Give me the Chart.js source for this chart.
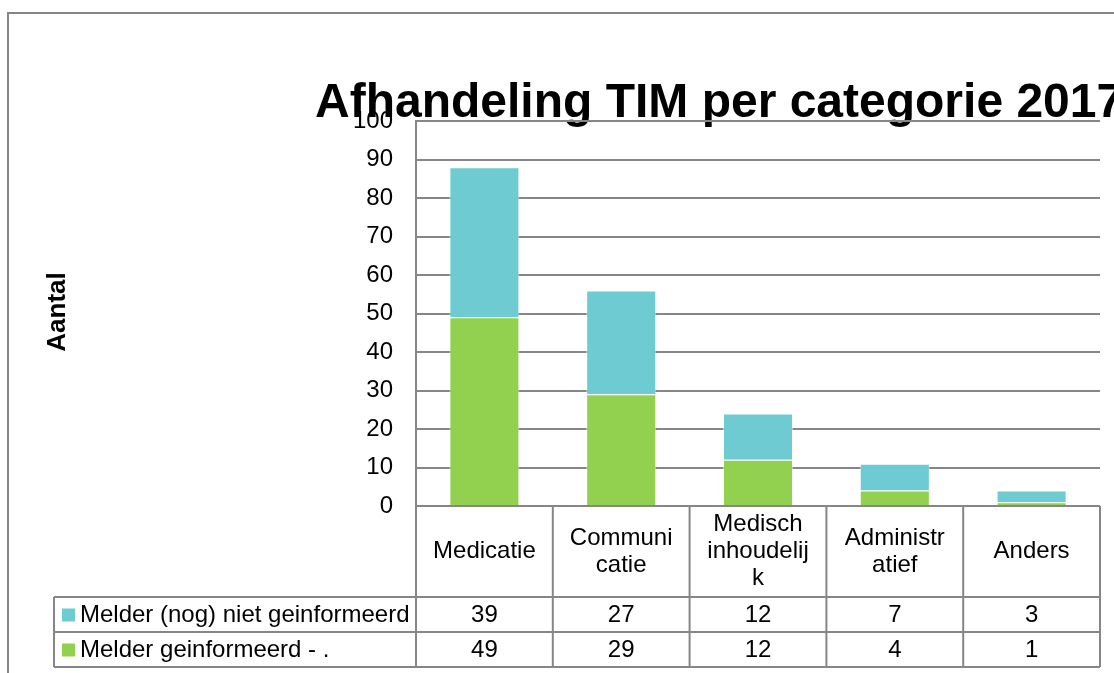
<!DOCTYPE html>
<html lang="nl">
<head>
<meta charset="utf-8">
<title>Afhandeling TIM per categorie 2017</title>
<script src="https://cdn.jsdelivr.net/npm/chart.js@4.4.1/dist/chart.umd.min.js"></script>
<style>
    html, body { margin: 0; padding: 0; background: #fff; }
    canvas { display: block; }
</style>
</head>
<body>
<canvas id="tim-chart" width="1114" height="673"></canvas>
<script>
// Données du graphique
const titre = 'Afhandeling TIM per categorie 2017';
const titreAxeY = 'Aantal';
const categories = [['Medicatie'], ['Communi', 'catie'], ['Medisch', 'inhoudelij', 'k'], ['Administr', 'atief'], ['Anders']];
const labelGeinformeerd = 'Melder geinformeerd - .';
const labelNietGeinformeerd = 'Melder (nog) niet geinformeerd';
const geinformeerd = [49, 29, 12, 4, 1];
const nietGeinformeerd = [39, 27, 12, 7, 3];
const yMax = 100;
const yStep = 10;

// Couleurs et police
const VERT = '#92D050';
const CYAN = '#6DCBD1';
const GRIS = '#868686';
const POLICE = '"Liberation Sans", Arial, sans-serif';

// Lignes du tableau sous le graphique (ordre de l'original)
const lignesTableau = [
    { label: labelNietGeinformeerd, couleur: CYAN, valeurs: nietGeinformeerd },
    { label: labelGeinformeerd, couleur: VERT, valeurs: geinformeerd }
];

// Plugin pour le cadre, les titres et le tableau de données
const tableauPlugin = {
    id: 'tableauDonnees',
    beforeDraw: function(chart) {
        const ctx = chart.ctx;
        ctx.save();

        // Cadre extérieur
        ctx.strokeStyle = GRIS;
        ctx.lineWidth = 2;
        ctx.strokeRect(8, 13, 1300, 900);

        // Titre principal
        ctx.fillStyle = '#000';
        ctx.font = 'bold 48px ' + POLICE;
        ctx.textAlign = 'left';
        ctx.textBaseline = 'alphabetic';
        ctx.fillText(titre, 315, 117);

        // Titre de l'axe Y
        ctx.translate(58, 312);
        ctx.rotate(-Math.PI / 2);
        ctx.font = 'bold 26px ' + POLICE;
        ctx.textAlign = 'center';
        ctx.textBaseline = 'middle';
        ctx.fillText(titreAxeY, 0, 0);
        ctx.restore();
    },
    afterDraw: function(chart) {
        const ctx = chart.ctx;
        const area = chart.chartArea;
        const x = chart.scales.x;
        const largeurCol = (area.right - area.left) / categories.length;
        const haut = area.bottom;
        const basEntete = haut + 91;
        const hauteurLigne = 35;
        const basTableau = basEntete + hauteurLigne * lignesTableau.length;
        const gauche = 54;

        ctx.save();
        ctx.strokeStyle = GRIS;
        ctx.lineWidth = 2;

        // Lignes verticales des colonnes
        for (let i = 0; i <= categories.length; i++) {
            const xx = area.left + i * largeurCol;
            ctx.beginPath();
            ctx.moveTo(xx, haut);
            ctx.lineTo(xx, basTableau);
            ctx.stroke();
        }

        // Lignes horizontales
        for (let j = 0; j <= lignesTableau.length; j++) {
            const yy = basEntete + j * hauteurLigne;
            ctx.beginPath();
            ctx.moveTo(gauche, yy);
            ctx.lineTo(area.right, yy);
            ctx.stroke();
        }
        ctx.beginPath();
        ctx.moveTo(gauche, basEntete);
        ctx.lineTo(gauche, basTableau);
        ctx.stroke();

        // En-têtes des catégories
        ctx.fillStyle = '#000';
        ctx.font = '24px ' + POLICE;
        ctx.textAlign = 'center';
        ctx.textBaseline = 'middle';
        const milieuEntete = (haut + basEntete) / 2;
        const interligne = 27;
        categories.forEach(function(lignes, i) {
            const cx = x.getPixelForValue(i);
            const debut = milieuEntete - (lignes.length - 1) * interligne / 2;
            lignes.forEach(function(txt, k) {
                ctx.fillText(txt, cx, debut + k * interligne);
            });
        });

        // Valeurs et légende
        lignesTableau.forEach(function(ligne, j) {
            const cy = basEntete + j * hauteurLigne + hauteurLigne / 2 + 1;
            ctx.textAlign = 'center';
            ligne.valeurs.forEach(function(v, i) {
                ctx.fillText(String(v), x.getPixelForValue(i), cy);
            });
            ctx.fillStyle = ligne.couleur;
            ctx.fillRect(62, cy - 7, 13, 13);
            ctx.fillStyle = '#000';
            ctx.textAlign = 'left';
            ctx.fillText(ligne.label, 80, cy);
        });
        ctx.restore();
    }
};

// Création du graphique
const ctx = document.getElementById('tim-chart').getContext('2d');
new Chart(ctx, {
    type: 'bar',
    data: {
        labels: categories.map(function(c) { return c.join(''); }),
        datasets: [{
            label: labelGeinformeerd,
            data: geinformeerd,
            backgroundColor: VERT,
            borderColor: 'rgba(255, 255, 255, 0.5)',
            borderWidth: 1
        }, {
            label: labelNietGeinformeerd,
            data: nietGeinformeerd,
            backgroundColor: CYAN,
            borderColor: 'rgba(255, 255, 255, 0.5)',
            borderWidth: 1
        }]
    },
    options: {
        responsive: false,
        animation: false,
        categoryPercentage: 1,
        barPercentage: 0.512,
        layout: {
            padding: { left: 0, right: 14, top: 121, bottom: 167 }
        },
        scales: {
            x: {
                stacked: true,
                display: false
            },
            y: {
                stacked: true,
                min: 0,
                max: yMax,
                afterFit: function(scale) {
                    scale.width = 416;
                },
                ticks: {
                    stepSize: yStep,
                    padding: 23,
                    color: '#000',
                    font: { family: POLICE, size: 24 }
                },
                grid: {
                    color: GRIS,
                    lineWidth: 2,
                    drawTicks: false
                },
                border: {
                    display: true,
                    color: GRIS,
                    width: 2
                }
            }
        },
        plugins: {
            legend: { display: false },
            title: { display: false },
            tooltip: { enabled: false }
        }
    },
    plugins: [tableauPlugin]
});
</script>
</body>
</html>
